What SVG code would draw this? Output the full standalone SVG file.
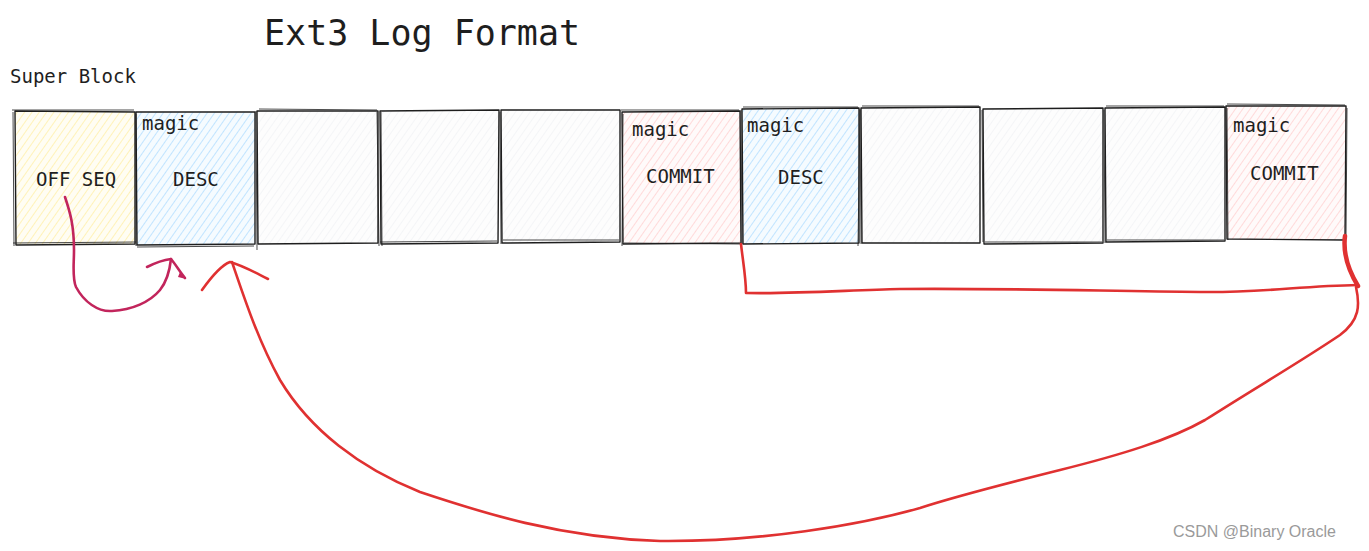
<svg xmlns="http://www.w3.org/2000/svg" width="1369" height="551" viewBox="0 0 1369 551">
<defs>
<style>
.t{font-family:"DejaVu Sans Mono","Liberation Mono",monospace;fill:#1e1e1e}
.lbl{font-size:19px}
.box{stroke:#1e1e1e;stroke-width:1.4;stroke-linejoin:round}
.sk{fill:none;stroke:#1e1e1e;stroke-width:1;opacity:0.8}
.red{fill:none;stroke:#e03131;stroke-width:2.6;stroke-linecap:round;stroke-linejoin:round}
.mag{fill:none;stroke:#c2255c;stroke-width:2.6;stroke-linecap:round;stroke-linejoin:round}
</style>
<pattern id="hy" patternUnits="userSpaceOnUse" width="6" height="6" patternTransform="rotate(35)"><rect width="6" height="6" fill="#fffdf3"/><line x1="0" y1="0" x2="0" y2="6" stroke="#ffec99" stroke-width="1.3"/></pattern>
<pattern id="hb" patternUnits="userSpaceOnUse" width="6" height="6" patternTransform="rotate(35)"><rect width="6" height="6" fill="#f5fbff"/><line x1="0" y1="0" x2="0" y2="6" stroke="#a5d8ff" stroke-width="1.3"/></pattern>
<pattern id="hp" patternUnits="userSpaceOnUse" width="6" height="6" patternTransform="rotate(35)"><rect width="6" height="6" fill="#fffafa"/><line x1="0" y1="0" x2="0" y2="6" stroke="#ffc9c9" stroke-width="1.3"/></pattern>
<pattern id="hg" patternUnits="userSpaceOnUse" width="6" height="6" patternTransform="rotate(35)"><rect width="6" height="6" fill="#fdfdfd"/><line x1="0" y1="0" x2="0" y2="6" stroke="#eef0f2" stroke-width="1.1"/></pattern>
</defs>
<rect width="1369" height="551" fill="#ffffff"/>
<text class="t" x="264" y="45" font-size="35">Ext3 Log Format</text>
<text class="t" x="10" y="83" font-size="19">Super Block</text>

<g id="b1">
<path class="box" fill="url(#hy)" d="M15,111 L135,112 L135,244 L16,245 Z"/>
<path class="sk" d="M12,110 L134,110 M13,112 L14,246 M13,243 L136,242"/>
<text class="t lbl" x="36" y="186">OFF SEQ</text>
</g>
<g id="b2">
<path class="box" fill="url(#hb)" d="M136,112 L255,112 L255,244 L137,245 Z"/>
<path class="sk" d="M136,114 L136,246 M137,247 L254,246 M256,111 L257,250"/>
<text class="t lbl" x="142" y="130">magic</text>
<text class="t lbl" x="173" y="186">DESC</text>
</g>
<g id="b3">
<path class="box" fill="url(#hg)" d="M257,111 L378,111 L378,243 L258,244 Z"/>
<path class="sk" d="M259,109 L377,110 M377,112 L379,246"/>
</g>
<g id="b4">
<path class="box" fill="url(#hg)" d="M380,111 L499,110 L498,243 L381,244 Z"/>
<path class="sk" d="M381,112 L382,246 M380,242 L497,241"/>
</g>
<g id="b5">
<path class="box" fill="url(#hg)" d="M501,110 L620,110 L620,242 L502,243 Z"/>
<path class="sk" d="M500,112 L501,244 M503,240 L619,240"/>
</g>
<g id="b6">
<path class="box" fill="url(#hp)" d="M622,112 L740,111 L741,243 L623,244 Z"/>
<path class="sk" d="M621,110 L739,110 M623,114 L622,246 M624,243 L740,244"/>
<text class="t lbl" x="632" y="136">magic</text>
<text class="t lbl" x="646" y="183">COMMIT</text>
</g>
<g id="b7">
<path class="box" fill="url(#hb)" d="M742,109 L859,108 L859,243 L743,244 Z"/>
<path class="sk" d="M743,107 L858,107 M741,110 L742,244 M860,110 L858,246"/>
<text class="t lbl" x="747" y="132">magic</text>
<text class="t lbl" x="778" y="184">DESC</text>
</g>
<g id="b8">
<path class="box" fill="url(#hg)" d="M861,108 L980,107 L980,243 L862,243 Z"/>
<path class="sk" d="M862,106 L979,106 M860,109 L861,244"/>
</g>
<g id="b9">
<path class="box" fill="url(#hg)" d="M983,109 L1103,108 L1103,243 L984,244 Z"/>
<path class="sk" d="M982,110 L983,242 M985,242 L1102,242"/>
</g>
<g id="b10">
<path class="box" fill="url(#hg)" d="M1105,108 L1225,107 L1225,241 L1106,242 Z"/>
<path class="sk" d="M1106,106 L1224,106 M1104,110 L1105,243 M1107,240 L1224,240"/>
</g>
<g id="b11">
<path class="box" fill="url(#hp)" d="M1226,106 L1346,106 L1345,240 L1227,239 Z"/>
<path class="sk" d="M1227,104 L1345,105 M1227,108 L1228,240 M1347,108 L1346,238"/>
<text class="t lbl" x="1233" y="132">magic</text>
<text class="t lbl" x="1250" y="180">COMMIT</text>
</g>

<g id="connectors">
<path class="mag" d="M65,197 C70,212 74,225 74,250 C74,265 72,278 76,287 C84,302 98,312 112,311 C132,310 150,302 160,290 C168,280 170,268 171,259"/>
<path class="mag" d="M147,267 C155,263 163,260 171,259 C176,265 180,272 185,278"/>
<path d="M180,272 L186,279 L178,277 Z" fill="#c2255c"/>
<path class="red" d="M741,244 C743,262 746,278 746,293 C800,294 850,290 900,289 C1000,288 1100,291 1200,292 C1260,293 1300,286 1358,285"/>
<path class="red" style="stroke-width:4.5" d="M1345,236 C1343,252 1347,268 1358,286"/>
<path class="red" d="M1356,287 C1360,305 1360,320 1340,335 C1300,362 1260,385 1205,420 C1170,440 1120,455 1060,470 C1000,485 960,495 920,508 C860,525 760,542 660,541 C560,538 480,512 420,492 C360,468 310,430 280,380 C258,340 245,300 232,262"/>
<path class="red" d="M202,290 C212,276 222,265 230,262 C244,266 256,273 268,279"/>
</g>
<text x="1173" y="537" font-family="Liberation Sans, Arial, sans-serif" font-size="16" fill="#9a9a9a">CSDN @Binary Oracle</text>
</svg>
